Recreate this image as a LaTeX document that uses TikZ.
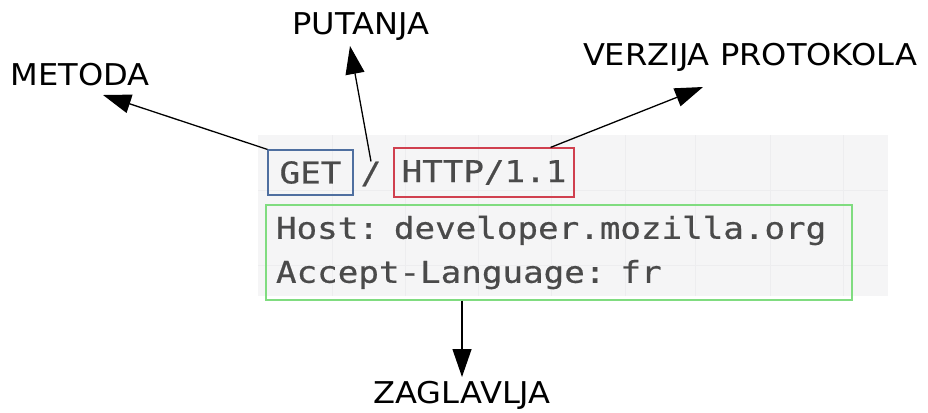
\documentclass[tikz,border=0pt]{standalone}
\usepackage{fontspec}
\setmainfont{DejaVu Sans}[FakeStretch=1.07]
\newfontfamily\codefont{DejaVu Sans Mono}[FakeStretch=1.14,FakeBold=0.6]
\usetikzlibrary{arrows.meta}
\definecolor{codegray}{HTML}{4A4A4A}
\definecolor{getblue}{HTML}{4F6FA0}
\definecolor{httpred}{HTML}{D0404F}
\definecolor{hdrgreen}{HTML}{80DC80}
\definecolor{panel}{HTML}{F5F5F6}
\definecolor{panelgrid}{HTML}{EDEDEF}

\begin{document}
\begin{tikzpicture}[x=1pt,y=-1pt,>={Triangle[length=28pt,width=19pt]},
  lbl/.style={font=\fontsize{30}{36}\selectfont,text=black,inner sep=0pt},
  code/.style={font=\codefont\fontsize{30}{44}\selectfont,text=codegray},
  codebox/.style={code,draw,line width=1.2pt,inner sep=0pt},
  arr/.style={->,line width=1.3pt}]

  \useasboundingbox (0,0) rectangle (928,412);
  \fill[panel] (258,135) rectangle (888,296);
  \foreach \gx in {332,405,478,551,625,695,770,843}
    \draw[panelgrid,line width=0.6pt] (\gx,135) -- (\gx,296);
  \foreach \gy in {190,265}
    \draw[panelgrid,line width=0.6pt] (258,\gy) -- (888,\gy);

  \node[codebox,draw=getblue,minimum width=85pt,minimum height=45pt] (get) at (310.5,172.5) {GET};
  \node[code,inner sep=0pt] (slash) at (371,174) {/};
  \node[codebox,draw=httpred,minimum width=180pt,minimum height=49pt] (http) at (484,172.5) {HTTP/1.1};
  \node[codebox,draw=hdrgreen,text width=566pt,align=left,inner xsep=10pt,minimum height=95pt] (hdr) at (559,252.5)
    {Host: developer.mozilla.org\\Accept-Language: fr};

  \node[lbl] (metoda) at (80,75) {METODA};
  \node[lbl] (putanja) at (361,27) {PUTANJA};
  \node[lbl] (verzija) at (750,57) {VERZIJA PROTOKOLA};
  \node[lbl] (zaglavlja) at (462,395) {ZAGLAVLJA};

  \coordinate (metodatip) at (103,95);
  \coordinate (putanjatip) at (350,46);
  \coordinate (verzijatip) at (703,87);
  \coordinate (zaglavljatip) at (462,377);

  \draw[arr] (get.north west) -- (metodatip);
  \draw[arr] (slash.north) -- (putanjatip);
  \draw[arr] ([xshift=-24pt]http.north east) -- (verzijatip);
  \draw[arr] (hdr.south -| zaglavljatip) -- (zaglavljatip);

\end{tikzpicture}
\end{document}
